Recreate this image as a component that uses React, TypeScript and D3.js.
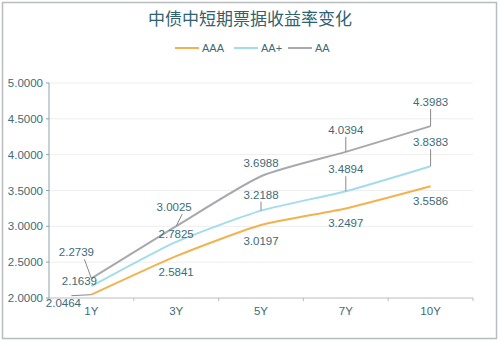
import React from "react";
import * as d3 from "d3";

const categories = ["1Y", "3Y", "5Y", "7Y", "10Y"];
const seriesNames = ["AAA", "AA+", "AA"];
const aaa = [2.0464, 2.5841, 3.0197, 3.2497, 3.5586];
const aaPlus = [2.1639, 2.7825, 3.2188, 3.4894, 3.8383];
const aa = [2.2739, 3.0025, 3.6988, 4.0394, 4.3983];
const yTicks = [2.0, 2.5, 3.0, 3.5, 4.0, 4.5, 5.0];
const title = "中债中短期票据收益率变化";

const colors = ["#f3b24f", "#a3dcec", "#a8a9b0"];
const textColor = "#3d6b78";

// label layout offsets (dx, dy of label centre relative to point, leader flag)
const labelLayout: [number, number, boolean][][] = [
  [[-28, 8, true], [0, 16, false], [0, 16, false], [0, 15, false], [0, 15, false]],
  [[-12, -5, false], [0, -8, false], [0, -16, true], [0, -22, true], [0, -24, true]],
  [[-15, -26, true], [-2, -19, true], [0, -13, false], [0, -22, true], [0, -24, true]],
];

export default function App() {
  const W = 500, H = 343;
  const left = 49, right = 473, top = 83, bottom = 298;
  const x = d3.scaleBand().domain(categories).range([left, right]);
  const y = d3.scaleLinear().domain([2, 5]).range([bottom, top]);
  const cx = (c: string) => (x(c) as number) + x.bandwidth() / 2;
  const data = [aaa, aaPlus, aa];
  const line = d3
    .line<number>()
    .x((_, i) => cx(categories[i]))
    .y((d) => y(d))
    .curve(d3.curveCardinal.tension(0.4));
  const font = "'Liberation Sans', Arial, sans-serif";
  const legendX = [175, 234, 288];

  return (
    <svg width={W} height={H} style={{ position: "absolute", left: 0, top: 0 }}>
      <rect x={2.5} y={2.5} width={494} height={336} fill="#fff" stroke="#b8bcbf" strokeWidth={1.5} />
      <text x={250} y={25} textAnchor="middle" fontFamily="'Noto Sans CJK SC', sans-serif" fontSize={17} fill="#2f6370">
        {title}
      </text>
      {seriesNames.map((n, i) => (
        <g key={n}>
          <line x1={legendX[i]} x2={legendX[i] + 24} y1={48} y2={48} stroke={colors[i]} strokeWidth={2} />
          <text x={legendX[i] + 27} y={52} fontFamily={font} fontSize={11} fill={textColor}>
            {n}
          </text>
        </g>
      ))}
      {yTicks.map((t) => (
        <g key={t}>
          {t > 2 && <line x1={left} x2={right} y1={y(t)} y2={y(t)} stroke="#eeeeee" />}
          <line x1={left - 3} x2={left} y1={y(t)} y2={y(t)} stroke="#8aa3ab" />
          <text x={left - 6} y={y(t) + 4} textAnchor="end" fontFamily={font} fontSize={11.5} fill={textColor}>
            {t.toFixed(4)}
          </text>
        </g>
      ))}
      <line x1={left} x2={left} y1={top} y2={bottom} stroke="#8aa3ab" />
      <line x1={left} x2={right} y1={bottom} y2={bottom} stroke="#b9bcbe" />
      {[...categories.map((c) => x(c) as number), right].map((p, i) => (
        <line key={i} x1={p} x2={p} y1={bottom} y2={bottom + 3} stroke="#b9bcbe" />
      ))}
      {categories.map((c) => (
        <text key={c} x={cx(c)} y={315} textAnchor="middle" fontFamily={font} fontSize={11.5} fill={textColor}>
          {c}
        </text>
      ))}
      {data.map((d, si) => (
        <path key={si} d={line(d) || ""} fill="none" stroke={colors[si]} strokeWidth={2} />
      ))}
      {data.map((d, si) =>
        d.map((v, i) => {
          const px = cx(categories[i]);
          const py = y(v);
          const [dx, dy, leader] = labelLayout[si][i];
          const lx = px + dx;
          const ly = py + dy;
          const endY = dy < 0 ? ly + 7 : ly - 7;
          return (
            <g key={`${si}-${i}`}>
              {leader && (
                <polyline
                  points={`${px},${py} ${dx === 0 ? px : lx + (dx < 0 ? 8 : 0)},${endY}`}
                  fill="none"
                  stroke="#888"
                  strokeWidth={1}
                />
              )}
              <text x={lx} y={ly + 4} textAnchor="middle" fontFamily={font} fontSize={11.5} fill={textColor}>
                {v.toFixed(4)}
              </text>
            </g>
          );
        })
      )}
    </svg>
  );
}
